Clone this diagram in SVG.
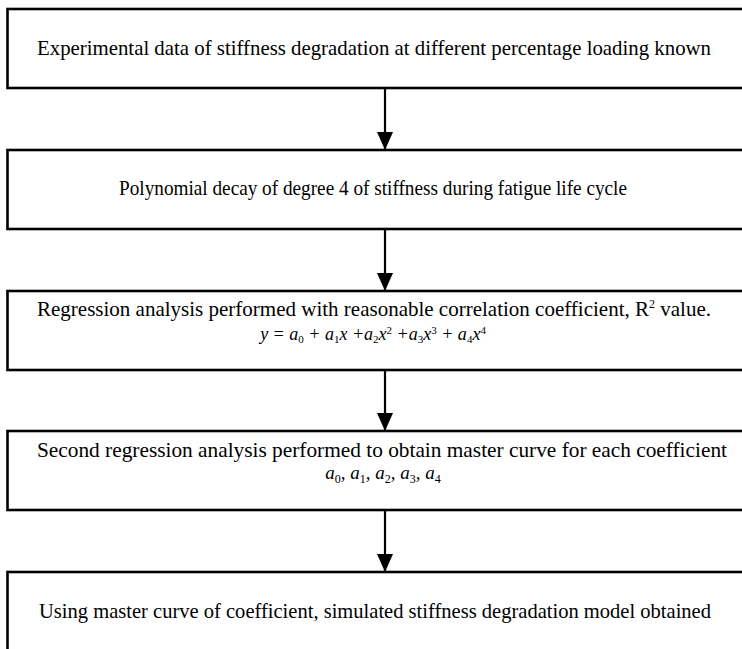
<svg xmlns="http://www.w3.org/2000/svg" width="742" height="649" viewBox="0 0 742 649">
<defs>
<style>
.box{fill:#fff;stroke:#000;stroke-width:2.6}
.t{font-family:"Liberation Serif","Times New Roman",serif;font-size:21px;fill:#000;text-anchor:middle}
.f{font-size:18px}
.g{font-size:19px}
.i{font-style:italic}
.n{font-style:normal;font-size:12px}
.m{font-style:normal;font-size:11px}
.con{stroke:#000;stroke-width:2.2;fill:none}
</style>
<marker id="ah" markerWidth="18" markerHeight="16" refX="17" refY="8" orient="auto" markerUnits="userSpaceOnUse" viewBox="0 0 18 16">
<path d="M0,0 L18,8 L0,16 Z" fill="#000"/>
</marker>
</defs>
<rect width="742" height="649" fill="#fff"/>
<g id="n1">
<rect class="box" x="7.5" y="9" width="760" height="79"/>
<text class="t" x="374" y="55" textLength="674" lengthAdjust="spacingAndGlyphs">Experimental data of stiffness degradation at different percentage loading known</text>
</g>
<g id="n2">
<rect class="box" x="7.5" y="150" width="760" height="79"/>
<text class="t" x="373" y="195" textLength="508" lengthAdjust="spacingAndGlyphs">Polynomial decay of degree 4 of stiffness during fatigue life cycle</text>
</g>
<g id="n3">
<rect class="box" x="7.5" y="291" width="760" height="79"/>
<text class="t" x="374" y="316" textLength="674" lengthAdjust="spacingAndGlyphs">Regression analysis performed with reasonable correlation coefficient, R<tspan class="n" dy="-8">2</tspan><tspan dy="8"> value.</tspan></text>
<text class="t f i" x="373" y="340">y = a<tspan class="m" dy="3">0</tspan><tspan dy="-3"> + a</tspan><tspan class="m" dy="3">1</tspan><tspan dy="-3">x +a</tspan><tspan class="m" dy="3">2</tspan><tspan dy="-3">x</tspan><tspan class="m" dy="-6">2</tspan><tspan dy="6"> +a</tspan><tspan class="m" dy="3">3</tspan><tspan dy="-3">x</tspan><tspan class="m" dy="-6">3</tspan><tspan dy="6"> + a</tspan><tspan class="m" dy="3">4</tspan><tspan dy="-3">x</tspan><tspan class="m" dy="-6">4</tspan></text>
</g>
<g id="n4">
<rect class="box" x="7.5" y="431" width="760" height="79"/>
<text class="t" x="382" y="457" textLength="690" lengthAdjust="spacingAndGlyphs">Second regression analysis performed to obtain master curve for each coefficient</text>
<text class="t g i" x="383" y="479">a<tspan class="n" dy="4">0</tspan><tspan dy="-4">, a</tspan><tspan class="n" dy="4">1</tspan><tspan dy="-4">, a</tspan><tspan class="n" dy="4">2</tspan><tspan dy="-4">, a</tspan><tspan class="n" dy="4">3</tspan><tspan dy="-4">, a</tspan><tspan class="n" dy="4">4</tspan></text>
</g>
<g id="n5">
<rect class="box" x="7.5" y="572" width="760" height="100"/>
<text class="t" x="375" y="618" textLength="672" lengthAdjust="spacingAndGlyphs">Using master curve of coefficient, simulated stiffness degradation model obtained</text>
</g>
<g id="connectors">
<line class="con" x1="385" y1="88" x2="385" y2="149" marker-end="url(#ah)"/>
<line class="con" x1="385" y1="229" x2="385" y2="290" marker-end="url(#ah)"/>
<line class="con" x1="385" y1="370" x2="385" y2="430" marker-end="url(#ah)"/>
<line class="con" x1="385" y1="510" x2="385" y2="571" marker-end="url(#ah)"/>
</g>
</svg>
